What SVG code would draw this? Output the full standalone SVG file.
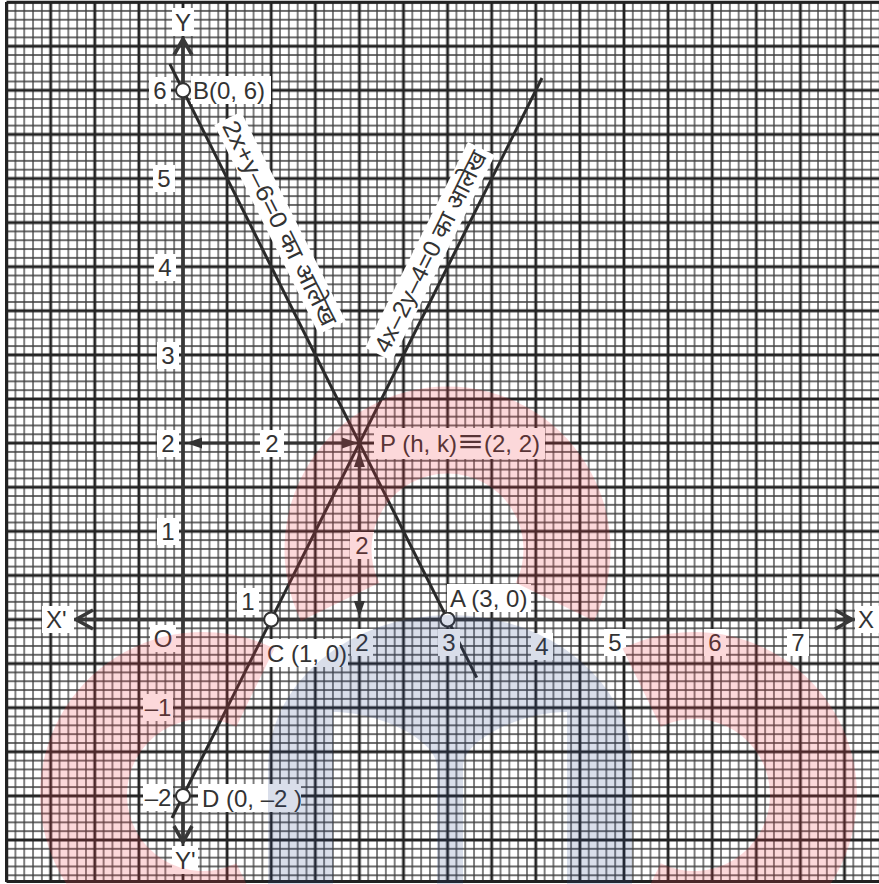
<svg xmlns="http://www.w3.org/2000/svg" width="879" height="884" viewBox="0 0 879 884">
<style>
.t{font-family:"Liberation Sans",Arial,"Noto Sans Devanagari","Noto Sans",sans-serif;font-size:24px;fill:#333}
.m{text-anchor:middle}
.bg{fill:#fff}
.ax{stroke:#383838;stroke-width:3.6;fill:none}
.ln{stroke:#2a2a2a;stroke-width:3;fill:none;stroke-linecap:butt}
.dim{stroke:#333;stroke-width:2.4}
.ah{fill:#333}
.pt{fill:#fff;stroke:#333;stroke-width:2}
.red{fill:#f03c46;opacity:0.2}
.blue{fill:#2a4a8a;opacity:0.18}
</style>
<defs>
<pattern id="grid" patternUnits="userSpaceOnUse" x="183" y="619.5" width="44.1" height="44.1">
<path d="M8.82 0V44.1M17.64 0V44.1M26.46 0V44.1M35.28 0V44.1M0 8.82H44.1M0 17.64H44.1M0 26.46H44.1M0 35.28H44.1" stroke="#3a3a3a" stroke-width="1.3"/>
<path d="M0 0V44.1M44.1 0V44.1M0 0H44.1M0 44.1H44.1" stroke="#222" stroke-width="2.8"/>
</pattern>
</defs>
<rect width="879" height="884" fill="#fff"/>
<g id="graph-paper">
<rect x="6.5" y="2" width="872.5" height="880" fill="url(#grid)"/>
<path d="M6.5 2.2H879M6.5 881.5H879M6.5 2V882" stroke="#222" stroke-width="3" fill="none"/>
</g>
<g id="axes">
<line class="ax" x1="183" y1="40" x2="183" y2="842"/>
<line class="ax" x1="76" y1="619.5" x2="851" y2="619.5"/>
<polyline class="ax" points="174,55 183,39 192,55"/>
<polyline class="ax" points="174,826 183,842 192,826"/>
<polyline class="ax" points="93,610 76,619.5 93,629"/>
<polyline class="ax" points="835,610 852,619.5 835,629"/>
</g>
<g id="connectors">
<line class="ln" x1="169.8" y1="63.8" x2="476.7" y2="677.7"/>
<line class="ln" x1="172" y1="818" x2="542" y2="78"/>
<line class="dim" x1="198" y1="443" x2="345" y2="443"/>
<polygon class="ah" points="186,443 202,437.5 202,448.5"/>
<polygon class="ah" points="358,443 342,437.5 342,448.5"/>
<line class="dim" x1="359.4" y1="462" x2="359.4" y2="604"/>
<polygon class="ah" points="359.4,451 353.9,467 364.9,467"/>
<polygon class="ah" points="359.4,617 353.9,601 364.9,601"/>
</g>
<g id="tick-labels">
<rect class="bg" x="149" y="77" width="22" height="27"/><text class="t m" x="160" y="98.5">6</text>
<rect class="bg" x="153" y="165" width="22" height="27"/><text class="t m" x="164" y="186.5">5</text>
<rect class="bg" x="154" y="254" width="22" height="27"/><text class="t m" x="165" y="275.5">4</text>
<rect class="bg" x="157" y="342" width="22" height="27"/><text class="t m" x="168" y="363.5">3</text>
<rect class="bg" x="157" y="430" width="22" height="27"/><text class="t m" x="168" y="451.5">2</text>
<rect class="bg" x="157" y="518" width="22" height="27"/><text class="t m" x="168" y="539.5">1</text>
<rect class="bg" x="150" y="625" width="26" height="27"/><text class="t m" x="163" y="646.5">O</text>
<rect class="bg" x="143" y="694" width="30" height="27"/><text class="t m" x="158" y="715.5">–1</text>
<rect class="bg" x="143" y="784" width="30" height="27"/><text class="t m" x="158" y="805.5">–2</text>
<rect class="bg" x="237" y="588" width="22" height="27"/><text class="t m" x="248" y="609.5">1</text>
<rect class="bg" x="351" y="629" width="22" height="27"/><text class="t m" x="362" y="650.5">2</text>
<rect class="bg" x="438" y="629" width="22" height="27"/><text class="t m" x="449" y="650.5">3</text>
<rect class="bg" x="531" y="633" width="22" height="27"/><text class="t m" x="542" y="654.5">4</text>
<rect class="bg" x="604" y="629" width="22" height="27"/><text class="t m" x="615" y="650.5">5</text>
<rect class="bg" x="704" y="629" width="22" height="27"/><text class="t m" x="715" y="650.5">6</text>
<rect class="bg" x="787" y="629" width="22" height="27"/><text class="t m" x="798" y="650.5">7</text>
</g>
<g id="axis-names">
<rect class="bg" x="42" y="606" width="32" height="27"/><text class="t" x="46" y="628">X'</text>
<rect class="bg" x="855" y="606" width="24" height="27"/><text class="t m" x="866" y="628">X</text>
<rect class="bg" x="172" y="8" width="22" height="28"/><text class="t m" x="183" y="30.5">Y</text>
<rect class="bg" x="172" y="846" width="26" height="28"/><text class="t" x="175" y="868.5">Y'</text>
</g>
<g id="point-B">
<circle class="pt" cx="183" cy="90.3" r="7"/>
<rect class="bg" x="191" y="76" width="80" height="28"/><text class="t" x="193" y="98.5">B(0, 6)</text>
</g>
<g id="point-A">
<circle class="pt" cx="447.6" cy="619.5" r="7"/>
<rect class="bg" x="447" y="584" width="84" height="28"/><text class="t" x="450" y="606.5">A (3, 0)</text>
</g>
<g id="point-C">
<circle class="pt" cx="271.2" cy="619.5" r="7"/>
<rect class="bg" x="263" y="639" width="85" height="28"/><text class="t" x="267" y="661.5">C (1, 0)</text>
</g>
<g id="point-D">
<circle class="pt" cx="183" cy="795.9" r="7"/>
<rect class="bg" x="198" y="784" width="103" height="28"/><text class="t" x="202" y="806.5">D (0, –2 )</text>
</g>
<g id="point-P">
<rect class="bg" x="374" y="428" width="171" height="31"/>
<text class="t" x="380" y="451.5">P (h, k)</text>
<text class="t" transform="translate(458,451.5) scale(1.75,1.3)" x="0" y="0">≡</text>
<text class="t" x="484" y="451.5">(2, 2)</text>
</g>
<g id="dim-labels">
<rect class="bg" x="260" y="430" width="24" height="27"/><text class="t m" x="272" y="451.5">2</text>
<rect class="bg" x="350" y="532" width="24" height="27"/><text class="t m" x="362" y="553.5">2</text>
</g>
<g id="line1-label" transform="translate(280,223) rotate(63.43)">
<rect class="bg" x="-117" y="-15" width="234" height="30"/>
<text class="t m" x="0" y="8.5" textLength="226" lengthAdjust="spacingAndGlyphs">2x+y–6=0 का आलेख</text>
</g>
<g id="line2-label" transform="translate(430,251.5) rotate(-63.43)">
<rect class="bg" x="-115" y="-15" width="230" height="30"/>
<text class="t m" x="0" y="8.5" textLength="222" lengthAdjust="spacingAndGlyphs">4x–2y–4=0 का आलेख</text>
</g>
<g id="watermark">
<path class="red" d="M301 621A163 163 0 1 1 594 621L515.8 582.8A76 76 0 1 0 379.2 582.8Z"/>
<path class="red" d="M274.5 648.5A163 163 0 1 0 274.5 941.5L236.3 863.3A76 76 0 1 1 236.3 726.7Z"/>
<path class="red" d="M622.5 648.5A163 163 0 1 1 622.5 941.5L660.7 863.3A76 76 0 1 0 660.7 726.7Z"/>
<path class="blue" fill-rule="evenodd" d="M268 884V767A182 152 0 0 1 632 767V884Z M333 884V712C380 712 437 740 437 767V884Z M567 884V712C520 712 463 740 463 767V884Z"/>
</g>
</svg>
